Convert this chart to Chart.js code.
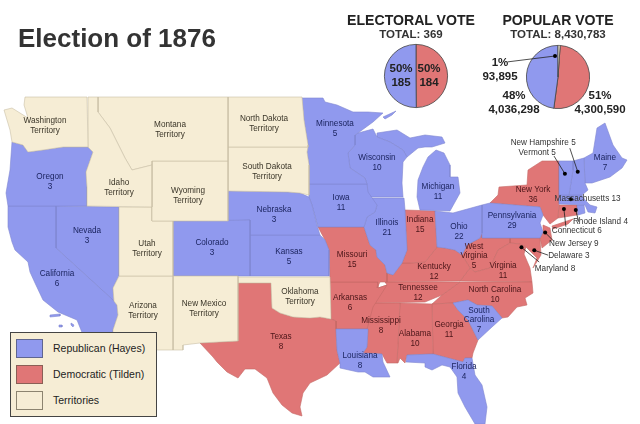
<!DOCTYPE html>
<html>
<head>
<meta charset="utf-8">
<title>Election of 1876</title>
<script src="https://cdn.jsdelivr.net/npm/chart.js@4"></script>
<style>
  html, body { margin: 0; padding: 0; background: #fff; }
  #page { position: relative; width: 640px; height: 424px; overflow: hidden; font-family: "Liberation Sans", Arial, sans-serif; filter: blur(0.35px); }
  #page canvas { position: absolute; }
  .txt { position: absolute; white-space: nowrap; transform: translate(-50%, -50%); color: #222; font-weight: bold; }
  #title { left: 18px; top: 38px; transform: translateY(-50%); font-size: 26px; color: #333; }
  .head { font-size: 14.1px; color: #222; }
  .total { font-size: 11.5px; color: #333; }
  .num { font-size: 11.5px; color: #222; }
  #legend { position: absolute; left: 10px; top: 332px; width: 145px; height: 83px; background: #f6edd5; border: 1px solid #444; }
  #legend .sw { position: absolute; left: 5px; width: 25px; height: 17px; border: 1px solid #777; }
  #legend .name { position: absolute; left: 42px; font-size: 10.5px; color: #222; }
</style>
</head>
<body>
<div id="page">
  <canvas id="mapa" width="640" height="424" style="left:0;top:0"></canvas>
  <canvas id="electoral" width="70" height="70" style="left:381px;top:41px"></canvas>
  <canvas id="popular" width="70" height="70" style="left:523px;top:42px"></canvas>
  <canvas id="guia" width="640" height="424" style="left:0;top:0"></canvas>
  <div id="title" class="txt">Election of 1876</div>
  <div class="txt head" style="left:411px;top:20px">ELECTORAL VOTE</div>
  <div class="txt total" style="left:411px;top:34px">TOTAL: 369</div>
  <div class="txt head" style="left:558px;top:20px">POPULAR VOTE</div>
  <div class="txt total" style="left:558px;top:34px">TOTAL: 8,430,783</div>
  <div id="legend"></div>
</div>
<script>
// Datos de los graficos circulares
const electoralLabels = ['Democratic (Tilden)', 'Republican (Hayes)'];
const electoralVotes = [184, 185];
const popularLabels = ['Democratic (Tilden)', 'Republican (Hayes)', 'Other'];
const popularVotes = [4300590, 4036298, 93895];

const blue = '#9099ee';
const red = '#e07676';
const cream = '#f6edd5';

// Contornos del mapa, en unidades del mapa (eje x 0-640, eje y 0-424)
const washington = [[25,97],[87,97],[88,147],[77,147],[63,147],[43,150],[28,152],[23,145],[12,142],[10,130],[4,110],[12,108],[20,113],[28,118],[24,105]];
const oregon = [[12,142],[23,145],[28,152],[43,150],[63,147],[77,147],[88,147],[93,152],[86,172],[87,187],[87,206],[8,206],[6,193],[10,170]];
const california = [[8,206],[56,206],[56,248],[113,300],[117,305],[118,315],[113,330],[113,340],[85,340],[77,320],[58,312],[43,300],[35,283],[30,272],[28,262],[15,250],[12,242],[8,227]];
const nevada = [[56,206],[119,207],[119,276],[113,288],[114,301],[56,248]];
const idaho = [[88,97],[98,97],[98,112],[110,128],[120,148],[125,158],[132,170],[152,165],[152,207],[87,206],[87,187],[86,172],[93,152],[88,147]];
const montana = [[98,97],[228,97],[228,161],[152,161],[152,165],[132,170],[125,158],[120,148],[110,128],[98,112]];
const wyoming = [[152,161],[228,161],[228,221],[152,221]];
const utah = [[119,207],[152,207],[152,221],[173,221],[173,276],[119,276]];
const arizona = [[119,276],[173,276],[173,350],[158,350],[113,340],[113,330],[118,315],[117,305],[114,301],[113,288]];
const colorado = [[173,221],[250,220],[250,276],[173,276]];
const newMexico = [[173,276],[238,276],[238,341],[200,343],[183,345],[183,350],[173,350]];
const northDakota = [[228,97],[302,97],[304,120],[308,145],[308,147],[228,147]];
const southDakota = [[228,147],[308,147],[307,152],[309,165],[309,195],[300,193],[288,192],[228,191]];
const nebraska = [[228,191],[288,192],[300,193],[309,197],[312,205],[317,225],[320,235],[250,235],[250,220],[228,221]];
const kansas = [[250,235],[320,235],[325,240],[329,250],[329,276],[250,276]];
const oklahoma = [[238,277],[330,277],[331,319],[320,317],[310,318],[293,317],[280,313],[272,308],[271,283],[238,283]];
const texas = [[200,343],[238,341],[238,283],[271,283],[272,308],[280,313],[293,317],[310,318],[320,317],[331,319],[336,321],[336,329],[337,350],[340,363],[327,375],[310,383],[303,393],[300,407],[302,416],[292,413],[282,405],[273,393],[267,378],[255,369],[245,369],[238,378],[227,372],[217,362],[213,357]];
const minnesota = [[302,98],[323,98],[325,102],[337,105],[353,112],[368,112],[383,113],[373,122],[358,133],[355,135],[355,145],[348,153],[350,168],[365,178],[367,184],[308,184],[309,165],[307,152],[308,145],[304,120]];
const iowa = [[308,184],[367,184],[368,192],[377,205],[375,212],[367,217],[364,227],[318,227],[312,205],[309,197]];
const wisconsin = [[355,135],[358,133],[373,129],[377,137],[390,142],[403,150],[407,157],[403,162],[402,183],[403,197],[368,197],[367,184],[365,178],[350,168],[348,153],[355,145]];
const upperMichigan = [[377,137],[377,133],[397,130],[410,138],[425,135],[442,137],[445,143],[432,147],[425,147],[418,148],[407,157],[403,150],[390,142]];
const lowerMichigan = [[423,167],[428,157],[436,150],[444,153],[450,165],[450,177],[458,177],[460,193],[450,211],[420,210],[417,197],[418,180]];
const illinois = [[368,198],[404,198],[405,210],[407,250],[402,263],[393,275],[387,273],[385,265],[377,257],[376,250],[370,245],[364,227],[367,217],[375,212],[377,205]];
const indiana = [[405,210],[435,211],[437,247],[425,262],[410,263],[402,263],[407,250]];
const ohio = [[435,211],[453,213],[482,205],[482,233],[480,238],[467,245],[462,255],[455,250],[445,248],[437,247]];
const pennsylvania = [[482,205],[490,203],[540,207],[543,215],[540,223],[543,232],[540,238],[482,238]];
const newYork = [[490,203],[498,195],[499,187],[527,185],[528,170],[542,161],[559,161],[559,195],[559,203],[558,218],[550,224],[543,215],[540,207]];
const longIsland = [[552,226],[573,219],[568,224],[553,229]];
const vermont = [[559,161],[573,161],[573,170],[569,195],[559,195]];
const newHampshire = [[573,161],[584,158],[585,183],[588,190],[582,195],[569,195],[573,170]];
const maine = [[584,158],[593,153],[597,128],[605,123],[613,145],[622,158],[627,160],[622,168],[610,177],[592,183],[585,183]];
const massachusetts = [[559,195],[582,195],[585,200],[590,205],[597,207],[595,213],[588,212],[585,205],[559,204]];
const connecticut = [[559,205],[577,205],[577,215],[558,218]];
const rhodeIsland = [[577,205],[584,205],[585,213],[578,215]];
const newJersey = [[543,225],[550,228],[552,240],[542,248],[540,238],[543,232]];
const maryland = [[510,238],[540,238],[541,255],[533,268],[537,258],[526,247],[520,244],[510,243]];
const westVirginia = [[462,255],[467,245],[480,238],[482,233],[482,238],[510,238],[510,243],[498,250],[490,268],[475,272],[470,268]];
const virginia = [[460,281],[470,268],[475,272],[490,268],[498,250],[510,243],[520,244],[526,247],[524,254],[530,268],[532,282]];
const kentucky = [[387,273],[393,275],[402,263],[410,263],[425,262],[437,247],[445,248],[455,250],[462,255],[470,268],[460,281],[385,282]];
const missouri = [[318,227],[364,227],[370,245],[376,250],[377,257],[385,265],[387,273],[387,282],[380,282],[377,288],[378,282],[330,282],[329,250],[325,240]];
const arkansas = [[330,282],[378,282],[378,288],[387,285],[373,307],[367,329],[336,329],[336,321],[331,319]];
const tennessee = [[385,282],[460,282],[442,295],[425,302],[372,303],[378,288],[387,285]];
const northCarolina = [[460,282],[532,282],[533,293],[525,298],[527,305],[517,307],[508,317],[502,318],[492,306],[477,305],[468,300],[453,303],[432,304],[442,295]];
const southCarolina = [[453,303],[468,300],[477,305],[492,306],[502,318],[492,327],[478,340],[468,320],[458,310]];
const georgia = [[432,304],[453,303],[458,310],[468,320],[478,340],[473,353],[472,358],[465,358],[463,362],[433,354]];
const alabama = [[400,303],[432,304],[433,354],[407,355],[405,363],[400,358],[398,363],[397,363]];
const mississippi = [[372,303],[400,303],[397,363],[387,363],[382,354],[363,353],[367,347],[368,329],[367,329]];
const louisiana = [[336,329],[368,329],[367,347],[363,353],[382,354],[383,362],[390,377],[373,377],[365,372],[358,372],[340,368],[340,363],[337,350]];
const florida = [[407,355],[433,354],[463,362],[465,358],[472,358],[475,375],[482,385],[487,407],[485,424],[475,424],[465,407],[458,393],[457,377],[450,367],[442,365],[432,370],[425,367],[425,363],[406,362]];
const saltLake = [[130,210],[136,212],[140,224],[135,224]];
const okeechobee = [[476,402],[480,402],[480,406],[476,406]];
const greenBay = [[416,152],[407,165],[404,166],[410,155]];
const lakeIsland = [[383,117],[396,111],[392,115],[385,119]];
const islandSantaCruz = [[50,315],[60,314],[60,316],[50,317]];
const islandCatalina = [[59,325],[62,325],[62,327],[59,327]];
const islandClemente = [[71,323],[74,325],[73,327],[71,325]];

const republicanStates = [oregon, california, nevada, colorado, nebraska, kansas, minnesota, iowa, wisconsin, upperMichigan, lowerMichigan, illinois, ohio, pennsylvania, vermont, newHampshire, maine, massachusetts, rhodeIsland, southCarolina, louisiana, florida, lakeIsland, islandSantaCruz, islandCatalina, islandClemente];
const democraticStates = [texas, missouri, arkansas, indiana, kentucky, tennessee, mississippi, alabama, georgia, northCarolina, virginia, westVirginia, maryland, newJersey, newYork, longIsland, connecticut];
const territories = [washington, idaho, montana, wyoming, utah, arizona, newMexico, northDakota, southDakota, oklahoma];
const lakes = [saltLake, okeechobee, greenBay];

// Rotulos: texto y punto central en unidades del mapa
const republicanLabels = ['Oregon\n3', 'California\n6', 'Nevada\n3', 'Colorado\n3', 'Nebraska\n3', 'Kansas\n5', 'Minnesota\n5', 'Iowa\n11', 'Wisconsin\n10', 'Michigan\n11', 'Illinois\n21', 'Ohio\n22', 'Pennsylvania\n29', 'Maine\n7', 'South\nCarolina\n7', 'Louisiana\n8', 'Florida\n4'];
const republicanAnchors = [[50,182],[57,279],[87,236],[212,248],[274,215],[289,257],[335,129],[341,203],[377,163],[438,192],[387,228],[459,232],[512,221],[605,163],[479,320],[360,361],[464,372]];
const democraticLabels = ['Texas\n8', 'Missouri\n15', 'Arkansas\n6', 'Indiana\n15', 'Kentucky\n12', 'Tennessee\n12', 'Mississippi\n8', 'Alabama\n10', 'Georgia\n11', 'North Carolina\n10', 'Virginia\n11', 'West\nVirginia\n5', 'New York\n36'];
const democraticAnchors = [[281,342],[352,260],[350,303],[420,225],[434,272],[418,293],[381,326],[415,339],[449,330],[495,295],[503,271],[474,256],[533,195]];
const territoryLabels = ['Washington\nTerritory', 'Montana\nTerritory', 'North Dakota\nTerritory', 'South Dakota\nTerritory', 'Idaho\nTerritory', 'Wyoming\nTerritory', 'Utah\nTerritory', 'Arizona\nTerritory', 'New Mexico\nTerritory', 'Oklahoma\nTerritory'];
const territoryAnchors = [[45,126],[170,130],[264,124],[267,172],[119,188],[188,196],[147,249],[143,311],[204,309],[300,297]];

// Llamadas de los estados pequenos: texto, punto del estado y fin de la guia
const calloutLabels = ['New Hampshire 5', 'Vermont 5', 'Massachusetts 13', 'Rhode Island 4', 'Connecticut 6', 'New Jersey 9', 'Delaware 3', 'Maryland 8'];
const calloutAnchors = [[546,141],[540,152],[591,198],[604,222],[580,231],[577,244],[572,257],[558,270]];
const calloutDots = [[581,171],[568,173],[574,199],[579,210],[567,209],[548,233],[537,251],[524,248]];
const calloutEnds = [[573,147],[557,155],[574,199],[582,222],[569,227],[557,242],[551,256],[542,263]];

const legendNames = ['Republican (Hayes)', 'Democratic (Tilden)', 'Territories'];
const legendColors = [blue, red, cream];
const legendBorders = ['#5f6590', '#8a5f55', '#8c8470'];

// Cada contorno es un dataset cerrado, relleno por la propia libreria
const shapeDataset = (outline, color, border) => ({
  data: outline.concat([outline[0]]),
  showLine: true,
  fill: 'shape',
  backgroundColor: color,
  borderColor: border,
  borderWidth: 0.6,
  pointRadius: 0,
  tension: 0
});

const mapDatasets = [
  ...territories.map((o) => shapeDataset(o, cream, '#c9c0a6')),
  ...republicanStates.map((o) => shapeDataset(o, blue, '#7f87d0')),
  ...democraticStates.map((o) => shapeDataset(o, red, '#c46a66')),
  ...lakes.map((o) => shapeDataset(o, '#ffffff', '#ffffff'))
];

const hiddenScales = {
  x: { type: 'linear', min: 0, max: 640, display: false },
  y: { type: 'linear', min: 0, max: 424, reverse: true, display: false }
};

// Dibuja los rotulos en su punto, a traves de las escalas
const drawLabels = (chart, labels, anchors, color) => {
  const ctx = chart.ctx;
  ctx.save();
  ctx.fillStyle = color;
  ctx.font = '8.2px "Liberation Sans", Arial, sans-serif';
  ctx.textAlign = 'center';
  ctx.textBaseline = 'middle';
  labels.forEach((label, i) => {
    const lines = label.split('\n');
    const x = chart.scales.x.getPixelForValue(anchors[i][0]);
    const y = chart.scales.y.getPixelForValue(anchors[i][1]);
    lines.forEach((line, j) => {
      ctx.fillText(line, x, y + (j - (lines.length - 1) / 2) * 9.6);
    });
  });
  ctx.restore();
};

new Chart(document.getElementById('mapa'), {
  type: 'scatter',
  data: { datasets: mapDatasets },
  options: {
    responsive: false,
    animation: false,
    layout: { padding: 0 },
    scales: hiddenScales,
    plugins: { legend: { display: false }, tooltip: { enabled: false } }
  },
  plugins: [{
    id: 'mapLabels',
    afterDatasetsDraw(chart) {
      drawLabels(chart, republicanLabels, republicanAnchors, '#1c2560');
      drawLabels(chart, democraticLabels, democraticAnchors, '#4a1518');
      drawLabels(chart, territoryLabels, territoryAnchors, '#3a3528');
    }
  }]
});

const pieOptions = (rotation) => ({
  responsive: false,
  animation: false,
  rotation: rotation,
  layout: { padding: 3 },
  plugins: { legend: { display: false }, tooltip: { enabled: false } }
});

new Chart(document.getElementById('electoral'), {
  type: 'pie',
  data: {
    labels: electoralLabels,
    datasets: [{ data: electoralVotes, backgroundColor: [red, blue], borderColor: '#444', borderWidth: 0.8 }]
  },
  options: pieOptions(0)
});

new Chart(document.getElementById('popular'), {
  type: 'pie',
  data: {
    labels: popularLabels,
    datasets: [{ data: popularVotes, backgroundColor: [red, blue, cream], borderColor: '#444', borderWidth: 0.8 }]
  },
  options: pieOptions(4)
});

// Guias con punto negro, por encima de mapa y circulos
const leaderDatasets = calloutDots.map((dot, i) => ({
  data: [dot, calloutEnds[i]],
  showLine: true,
  borderColor: '#222',
  borderWidth: 0.8,
  pointRadius: [2, 0],
  pointBackgroundColor: '#000',
  pointBorderWidth: 0
}));
leaderDatasets.push({
  data: [[558, 53], [510, 59]],
  showLine: true,
  borderColor: '#222',
  borderWidth: 0.8,
  pointRadius: [2, 0],
  pointBackgroundColor: '#000',
  pointBorderWidth: 0
});

new Chart(document.getElementById('guia'), {
  type: 'scatter',
  data: { datasets: leaderDatasets },
  options: {
    responsive: false,
    animation: false,
    layout: { padding: 0 },
    scales: hiddenScales,
    plugins: { legend: { display: false }, tooltip: { enabled: false } }
  },
  plugins: [{
    id: 'calloutLabels',
    afterDatasetsDraw(chart) {
      drawLabels(chart, calloutLabels, calloutAnchors, '#333');
    }
  }]
});

// Etiquetas de los circulos
const pieTexts = [
  ['50%', 401, 68], ['185', 401, 82], ['50%', 429, 68], ['184', 429, 82],
  ['1%', 500, 62], ['93,895', 500, 76], ['48%', 514, 95], ['4,036,298', 514, 109],
  ['51%', 600, 95], ['4,300,590', 600, 109]
];
const page = document.getElementById('page');
pieTexts.forEach(([text, x, y]) => {
  const el = document.createElement('div');
  el.className = 'txt num';
  el.textContent = text;
  el.style.left = x + 'px';
  el.style.top = y + 'px';
  page.appendChild(el);
});

// Leyenda
const legend = document.getElementById('legend');
legendNames.forEach((name, i) => {
  const sw = document.createElement('div');
  sw.className = 'sw';
  sw.style.top = 6 + i * 26 + 'px';
  sw.style.background = legendColors[i];
  sw.style.borderColor = legendBorders[i];
  legend.appendChild(sw);
  const label = document.createElement('div');
  label.className = 'name';
  label.textContent = name;
  label.style.top = 9 + i * 26 + 'px';
  legend.appendChild(label);
});
</script>
</body>
</html>
